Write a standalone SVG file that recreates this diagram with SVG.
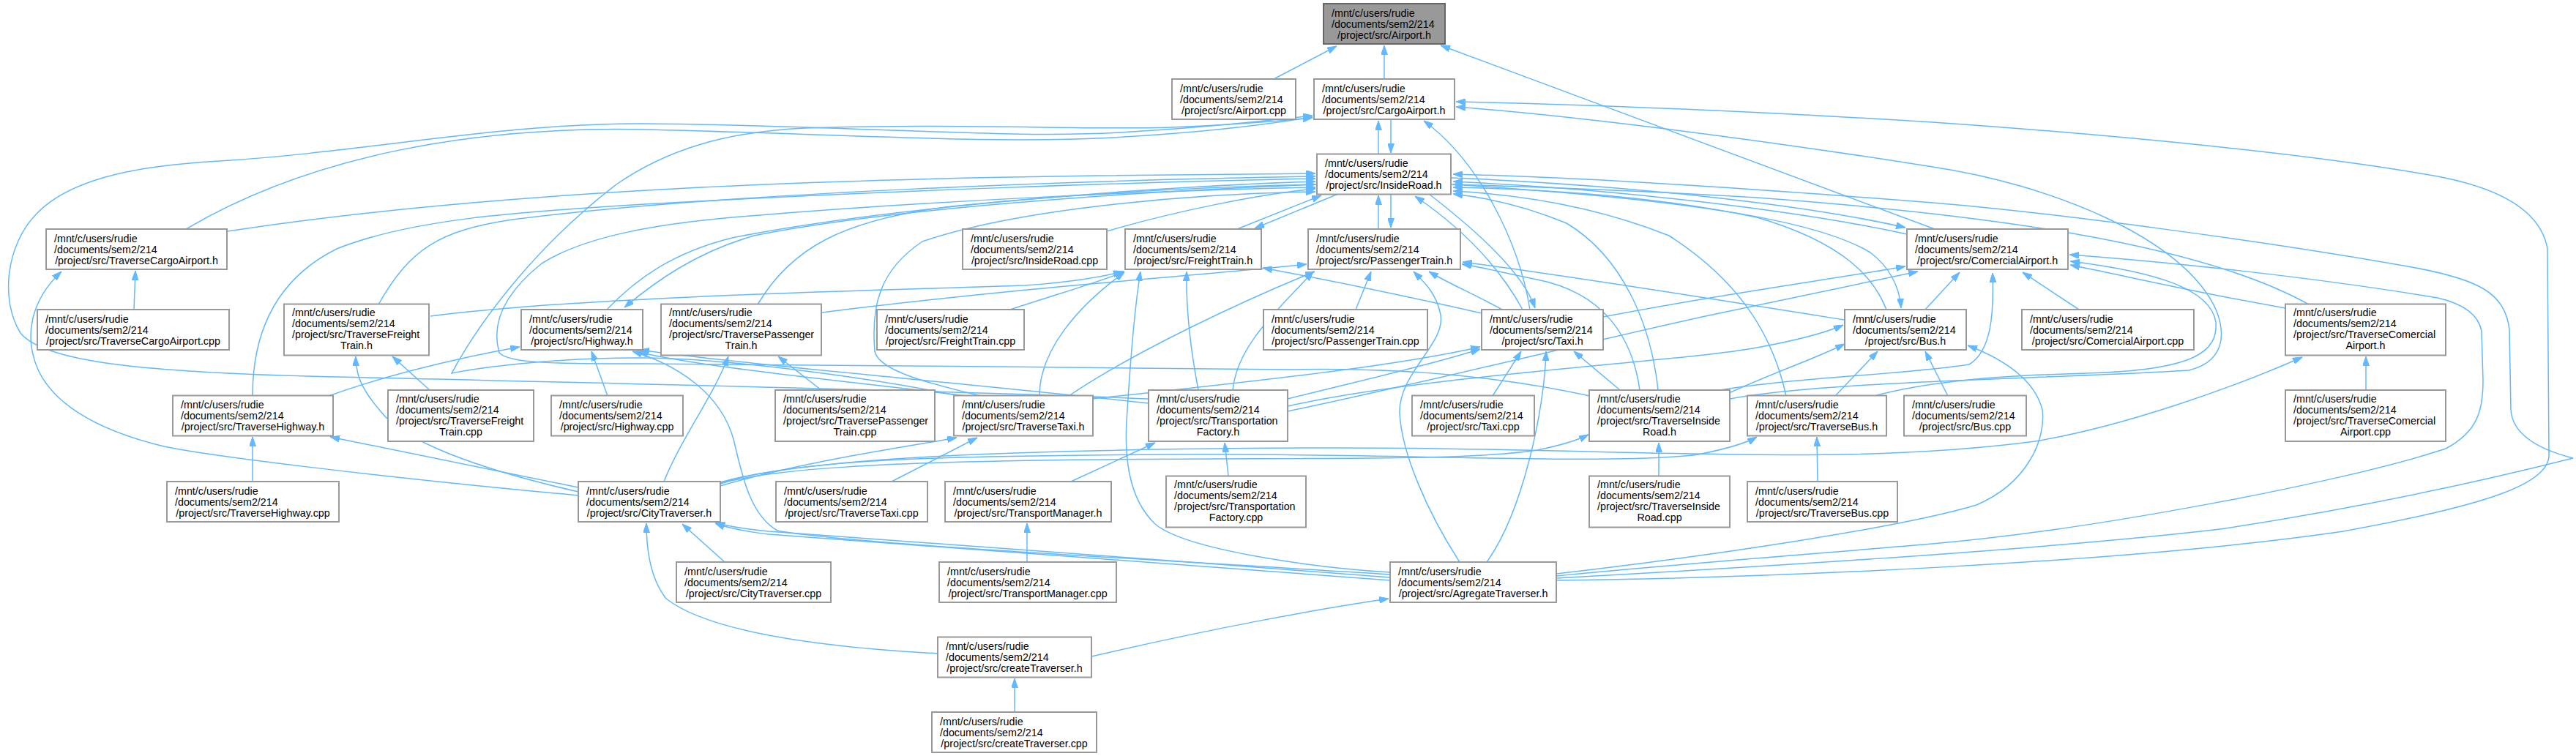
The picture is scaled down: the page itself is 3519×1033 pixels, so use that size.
<svg xmlns="http://www.w3.org/2000/svg" width="3519" height="1033" viewBox="0 0 3519 1033">
<style>
.node rect{fill:#ffffff;stroke:#999999;stroke-width:2}
#n_Airport_h rect{fill:#999999;stroke:#666666}
.node text{font-family:"Liberation Sans",Arial,Helvetica,sans-serif;font-size:14.3px;fill:#000000}
.node text.c{text-anchor:middle}
#edges path{fill:none;stroke:#63b8ff;stroke-width:1.5;marker-end:url(#ah)}
</style>
<defs>
<marker id="ah" markerUnits="userSpaceOnUse" markerWidth="13" markerHeight="9" refX="13" refY="4.5" orient="auto"><path d="M0,0 L13,4.5 L0,9 z" fill="#63b8ff" stroke="#63b8ff" stroke-width="1"/></marker>
</defs>
<rect x="0" y="0" width="3519" height="1033" fill="#ffffff"/>
<g id="edges">
<path d="M1740,108 L1826,63"/>
<path d="M1891,108 L1891,62"/>
<path d="M2643,313 L1968,62"/>
<path d="M1883,210 L1883,165"/>
<path d="M1900,163 L1900,209"/>
<path d="M254,313 C420,215 640,172 880,177 C1150,183 1350,197 1520,188 C1650,181 1745,168 1793,160"/>
<path d="M1569,545 C1300,533 700,521 420,514 C200,508 60,495 28,455 C0,410 8,335 50,292 C100,240 200,226 300,220 C500,208 680,168 880,169 C1150,171 1380,190 1530,181 C1660,174 1745,163 1793,158"/>
<path d="M1310,541 C1200,518 1000,490 880,489 C760,488 650,503 617,510 C660,430 740,330 842,252 C910,205 990,180 1100,175 C1300,168 1500,178 1600,174 C1700,170 1760,164 1793,161"/>
<path d="M311,316 C700,256 1200,244 1500,240 C1650,238 1750,237 1797,237"/>
<path d="M517,416 C560,340 600,315 700,300 C1000,262 1500,246 1797,241"/>
<path d="M345,541 C345,450 380,380 460,340 C560,300 700,290 880,279 C1200,261 1550,249 1797,244"/>
<path d="M829,423 C870,380 920,345 1000,325 C1200,285 1550,256 1797,248"/>
<path d="M1799,252 C1500,264 1200,288 1030,322 C950,345 895,385 853,420"/>
<path d="M1035,416 C1080,340 1150,300 1300,282 C1500,261 1700,254 1797,252"/>
<path d="M1512,316 C1600,290 1720,265 1797,258"/>
<path d="M1340,541 C1260,522 1200,505 1195,480 C1190,420 1200,370 1260,330 C1400,282 1650,264 1797,262"/>
<path d="M2172,541 C2040,512 1900,502 1760,505 C1500,502 1000,498 880,497 C760,497 695,497 682,482 C670,440 690,400 740,360 C800,322 900,306 1000,297 C1300,272 1600,260 1797,256"/>
<path d="M1983,243 C2200,252 2450,276 2603,311"/>
<path d="M2605,320 C2450,286 2200,258 1985,248"/>
<path d="M1983,252 C2300,272 2480,300 2555,345 C2585,368 2595,395 2597,421"/>
<path d="M2577,423 C2560,380 2520,332 2400,297 C2250,266 2100,258 1985,256"/>
<path d="M2440,541 C2420,450 2370,380 2280,322 C2180,282 2080,266 1985,261"/>
<path d="M2265,533 C2255,440 2215,350 2140,305 C2080,280 2030,270 1985,265"/>
<path d="M2126,790 C2400,775 2800,750 3033,723 C3250,690 3420,650 3515,626 C3460,612 3432,590 3430,560 L3428,450 C3422,400 3385,382 3300,366 C3100,330 2800,290 2640,277 C2400,258 2150,242 1985,238"/>
<path d="M2126,793 C2400,790 2900,770 3201,726 C3400,690 3485,660 3482,620 L3480,340 C3470,282 3400,252 3313,238 C3150,210 2900,185 2640,167 C2400,152 2150,142 1989,139"/>
<path d="M2126,787 C2300,770 2500,755 2640,743 C2850,725 3200,660 3341,613 C3385,590 3392,560 3392,520 L3390,452 C3385,427 3360,414 3330,407 C3150,377 2950,357 2827,348"/>
<path d="M2126,784 C2350,758 2600,720 2700,690 C2770,660 2795,600 2790,560 C2780,520 2740,492 2688,472"/>
<path d="M2031,768 C2080,700 2110,560 2112,480"/>
<path d="M1994,768 C1950,700 1915,620 1912,565 C1910,510 1975,470 1968,430 C1962,400 1945,385 1931,371"/>
<path d="M1899,789 C1600,765 1200,738 1050,726 C1010,722 990,718 977,714"/>
<path d="M1899,793 C1600,770 1200,742 1050,730 C1010,725 990,720 977,715"/>
<path d="M1899,785 C1500,760 1150,742 1062,725 C1022,702 1012,640 1002,600 C985,540 930,500 864,480"/>
<path d="M1899,782 C1800,776 1620,752 1578,716 C1540,680 1535,620 1540,560 C1545,480 1550,420 1558,371"/>
<path d="M1491,897 C1650,860 1800,832 1897,818"/>
<path d="M1281,893 C1100,883 964,860 910,818 C888,790 883,750 883,715"/>
<path d="M1386,973 L1386,927"/>
<path d="M990,768 L932,716"/>
<path d="M1403,768 L1403,715"/>
<path d="M1463,658 L1578,605"/>
<path d="M1678,650 L1673,605"/>
<path d="M1218,658 L1335,598"/>
<path d="M984,664 C1100,630 1230,612 1307,598"/>
<path d="M984,661 C1050,641 1200,631 1500,628 C1800,625 2000,630 2100,615 C2140,607 2158,600 2170,594"/>
<path d="M984,659 C1100,626 1300,623 1600,621 C1900,619 2200,636 2320,621 C2365,612 2388,604 2400,597"/>
<path d="M984,660 C1100,624 1400,614 1800,612 C2200,610 2500,640 2780,603 C2900,583 3050,530 3145,488"/>
<path d="M907,658 C930,600 975,540 995,487"/>
<path d="M790,666 L451,597"/>
<path d="M790,677 C500,650 280,622 224,610 C120,585 70,545 52,505 C32,460 42,410 84,371"/>
<path d="M790,672 C650,640 550,602 520,562 C492,530 486,510 486,487"/>
<path d="M345,658 L345,597"/>
<path d="M183,423 L185,370"/>
<path d="M587,533 L536,487"/>
<path d="M830,541 L808,480"/>
<path d="M449,541 C520,515 620,490 710,474"/>
<path d="M1122,533 L1063,487"/>
<path d="M1320,541 C1150,520 960,502 872,481"/>
<path d="M1570,551 C1300,522 1000,496 874,478"/>
<path d="M1493,545 C1700,522 1900,502 2022,474"/>
<path d="M1759,545 C1850,522 1950,500 2022,477"/>
<path d="M1759,555 C1950,512 2300,494 2400,475 C2460,464 2500,452 2518,444"/>
<path d="M1637,533 C1625,470 1620,420 1621,371"/>
<path d="M1684,533 C1690,470 1750,420 1794,371"/>
<path d="M1759,562 C1950,522 2150,472 2325,433 C2450,406 2550,385 2620,371"/>
<path d="M2190,433 C2350,402 2500,382 2603,364"/>
<path d="M2630,423 L2677,372"/>
<path d="M2840,423 L2763,372"/>
<path d="M3122,421 C3000,400 2900,376 2828,362"/>
<path d="M3232,533 L3232,487"/>
<path d="M3154,416 C3000,330 2700,292 2400,270 C2200,258 2050,254 1985,252"/>
<path d="M2080,423 C2040,350 1980,300 1933,268"/>
<path d="M1952,265 C2010,310 2080,370 2097,421"/>
<path d="M2090,423 C2075,330 2020,220 1945,165"/>
<path d="M1690,313 L1805,267"/>
<path d="M1828,265 L1714,312"/>
<path d="M1883,313 L1883,267"/>
<path d="M1900,265 L1900,311"/>
<path d="M1852,423 L1873,371"/>
<path d="M2052,423 C2010,400 1980,388 1952,371"/>
<path d="M2024,428 C1900,400 1800,380 1725,366"/>
<path d="M1380,423 C1450,400 1500,386 1536,371"/>
<path d="M588,432 C800,405 1200,397 1400,390 C1470,385 1510,377 1534,371"/>
<path d="M1123,427 C1400,392 1650,376 1785,361"/>
<path d="M2519,437 C2350,410 2150,378 1998,358"/>
<path d="M2507,541 L2565,480"/>
<path d="M2661,541 L2630,480"/>
<path d="M2039,541 L2078,480"/>
<path d="M2266,650 L2266,605"/>
<path d="M2483,658 L2482,597"/>
<path d="M2213,533 L2150,480"/>
<path d="M2360,538 C2420,510 2480,490 2520,470"/>
<path d="M2350,533 C2450,516 2600,512 2690,498 C2720,480 2724,430 2722,373"/>
<path d="M2560,541 C2620,525 2700,514 2850,510 C3000,506 3030,480 3027,440 C3020,396 2950,372 2828,357"/>
<path d="M2363,545 C2500,520 2800,518 2990,506 C3035,495 3042,462 3028,425 C2985,325 2800,252 2640,228 C2400,190 2150,158 1989,146"/>
<path d="M1420,541 C1420,480 1470,420 1536,372"/>
<path d="M1460,541 C1550,480 1700,410 1796,371"/>
<path d="M2240,533 C2230,460 2190,400 2100,382 C2050,372 2020,364 1997,361"/>
</g>
<g id="n_Airport_h" class="node"><rect x="1808" y="5" width="166" height="55"/><text x="1819" y="22.5">/mnt/c/users/rudie</text><text x="1819" y="37.5">/documents/sem2/214</text><text class="c" x="1891" y="52.5">/project/src/Airport.h</text></g>
<g id="n_Airport_cpp" class="node"><rect x="1601" y="108" width="169" height="55"/><text x="1612" y="125.5">/mnt/c/users/rudie</text><text x="1612" y="140.5">/documents/sem2/214</text><text class="c" x="1685.5" y="155.5">/project/src/Airport.cpp</text></g>
<g id="n_CargoAirport_h" class="node"><rect x="1795" y="108" width="192" height="55"/><text x="1806" y="125.5">/mnt/c/users/rudie</text><text x="1806" y="140.5">/documents/sem2/214</text><text class="c" x="1891" y="155.5">/project/src/CargoAirport.h</text></g>
<g id="n_InsideRoad_h" class="node"><rect x="1799" y="210.5" width="183" height="55"/><text x="1810" y="228">/mnt/c/users/rudie</text><text x="1810" y="243">/documents/sem2/214</text><text class="c" x="1890.5" y="258">/project/src/InsideRoad.h</text></g>
<g id="n_TraverseCargoAirport_h" class="node"><rect x="63" y="313" width="247" height="55"/><text x="74" y="330.5">/mnt/c/users/rudie</text><text x="74" y="345.5">/documents/sem2/214</text><text class="c" x="186.5" y="360.5">/project/src/TraverseCargoAirport.h</text></g>
<g id="n_InsideRoad_cpp" class="node"><rect x="1315" y="313" width="197" height="55"/><text x="1326" y="330.5">/mnt/c/users/rudie</text><text x="1326" y="345.5">/documents/sem2/214</text><text class="c" x="1413.5" y="360.5">/project/src/InsideRoad.cpp</text></g>
<g id="n_FreightTrain_h" class="node"><rect x="1537" y="313" width="186" height="55"/><text x="1548" y="330.5">/mnt/c/users/rudie</text><text x="1548" y="345.5">/documents/sem2/214</text><text class="c" x="1630" y="360.5">/project/src/FreightTrain.h</text></g>
<g id="n_PassengerTrain_h" class="node"><rect x="1787" y="313" width="208" height="55"/><text x="1798" y="330.5">/mnt/c/users/rudie</text><text x="1798" y="345.5">/documents/sem2/214</text><text class="c" x="1891" y="360.5">/project/src/PassengerTrain.h</text></g>
<g id="n_ComercialAirport_h" class="node"><rect x="2605" y="313" width="220" height="55"/><text x="2616" y="330.5">/mnt/c/users/rudie</text><text x="2616" y="345.5">/documents/sem2/214</text><text class="c" x="2715" y="360.5">/project/src/ComercialAirport.h</text></g>
<g id="n_TraverseCargoAirport_cpp" class="node"><rect x="51" y="423" width="262" height="55"/><text x="62" y="440.5">/mnt/c/users/rudie</text><text x="62" y="455.5">/documents/sem2/214</text><text class="c" x="182" y="470.5">/project/src/TraverseCargoAirport.cpp</text></g>
<g id="n_TraverseFreightTrain_h" class="node"><rect x="388" y="415.5" width="198" height="70"/><text x="399" y="432">/mnt/c/users/rudie</text><text x="399" y="447">/documents/sem2/214</text><text x="399" y="462">/project/src/TraverseFreight</text><text class="c" x="487" y="477">Train.h</text></g>
<g id="n_Highway_h" class="node"><rect x="712" y="423" width="166" height="55"/><text x="723" y="440.5">/mnt/c/users/rudie</text><text x="723" y="455.5">/documents/sem2/214</text><text class="c" x="795" y="470.5">/project/src/Highway.h</text></g>
<g id="n_TraversePassengerTrain_h" class="node"><rect x="903" y="415.5" width="219" height="70"/><text x="914" y="432">/mnt/c/users/rudie</text><text x="914" y="447">/documents/sem2/214</text><text x="914" y="462">/project/src/TraversePassenger</text><text class="c" x="1012.5" y="477">Train.h</text></g>
<g id="n_FreightTrain_cpp" class="node"><rect x="1198" y="423" width="201" height="55"/><text x="1209" y="440.5">/mnt/c/users/rudie</text><text x="1209" y="455.5">/documents/sem2/214</text><text class="c" x="1298.5" y="470.5">/project/src/FreightTrain.cpp</text></g>
<g id="n_PassengerTrain_cpp" class="node"><rect x="1726" y="423" width="224" height="55"/><text x="1737" y="440.5">/mnt/c/users/rudie</text><text x="1737" y="455.5">/documents/sem2/214</text><text class="c" x="1838" y="470.5">/project/src/PassengerTrain.cpp</text></g>
<g id="n_Taxi_h" class="node"><rect x="2024" y="423" width="166" height="55"/><text x="2035" y="440.5">/mnt/c/users/rudie</text><text x="2035" y="455.5">/documents/sem2/214</text><text class="c" x="2107" y="470.5">/project/src/Taxi.h</text></g>
<g id="n_Bus_h" class="node"><rect x="2520" y="423" width="166" height="55"/><text x="2531" y="440.5">/mnt/c/users/rudie</text><text x="2531" y="455.5">/documents/sem2/214</text><text class="c" x="2603" y="470.5">/project/src/Bus.h</text></g>
<g id="n_ComercialAirport_cpp" class="node"><rect x="2762" y="423" width="235" height="55"/><text x="2773" y="440.5">/mnt/c/users/rudie</text><text x="2773" y="455.5">/documents/sem2/214</text><text class="c" x="2879.5" y="470.5">/project/src/ComercialAirport.cpp</text></g>
<g id="n_TraverseComercialAirport_h" class="node"><rect x="3122" y="415.5" width="219" height="70"/><text x="3133" y="432">/mnt/c/users/rudie</text><text x="3133" y="447">/documents/sem2/214</text><text x="3133" y="462">/project/src/TraverseComercial</text><text class="c" x="3231.5" y="477">Airport.h</text></g>
<g id="n_TraverseHighway_h" class="node"><rect x="236" y="540.5" width="219" height="55"/><text x="247" y="558">/mnt/c/users/rudie</text><text x="247" y="573">/documents/sem2/214</text><text class="c" x="345.5" y="588">/project/src/TraverseHighway.h</text></g>
<g id="n_TraverseFreightTrain_cpp" class="node"><rect x="530" y="533" width="199" height="70"/><text x="541" y="549.5">/mnt/c/users/rudie</text><text x="541" y="564.5">/documents/sem2/214</text><text x="541" y="579.5">/project/src/TraverseFreight</text><text class="c" x="629.5" y="594.5">Train.cpp</text></g>
<g id="n_Highway_cpp" class="node"><rect x="753" y="540.5" width="180" height="55"/><text x="764" y="558">/mnt/c/users/rudie</text><text x="764" y="573">/documents/sem2/214</text><text class="c" x="843" y="588">/project/src/Highway.cpp</text></g>
<g id="n_TraversePassengerTrain_cpp" class="node"><rect x="1059" y="533" width="218" height="70"/><text x="1070" y="549.5">/mnt/c/users/rudie</text><text x="1070" y="564.5">/documents/sem2/214</text><text x="1070" y="579.5">/project/src/TraversePassenger</text><text class="c" x="1168" y="594.5">Train.cpp</text></g>
<g id="n_TraverseTaxi_h" class="node"><rect x="1303" y="540.5" width="190" height="55"/><text x="1314" y="558">/mnt/c/users/rudie</text><text x="1314" y="573">/documents/sem2/214</text><text class="c" x="1398" y="588">/project/src/TraverseTaxi.h</text></g>
<g id="n_TransportationFactory_h" class="node"><rect x="1569" y="533" width="190" height="70"/><text x="1580" y="549.5">/mnt/c/users/rudie</text><text x="1580" y="564.5">/documents/sem2/214</text><text x="1580" y="579.5">/project/src/Transportation</text><text class="c" x="1664" y="594.5">Factory.h</text></g>
<g id="n_Taxi_cpp" class="node"><rect x="1929" y="540.5" width="167" height="55"/><text x="1940" y="558">/mnt/c/users/rudie</text><text x="1940" y="573">/documents/sem2/214</text><text class="c" x="2012.5" y="588">/project/src/Taxi.cpp</text></g>
<g id="n_TraverseInsideRoad_h" class="node"><rect x="2171" y="533" width="192" height="70"/><text x="2182" y="549.5">/mnt/c/users/rudie</text><text x="2182" y="564.5">/documents/sem2/214</text><text x="2182" y="579.5">/project/src/TraverseInside</text><text class="c" x="2267" y="594.5">Road.h</text></g>
<g id="n_TraverseBus_h" class="node"><rect x="2387" y="540.5" width="190" height="55"/><text x="2398" y="558">/mnt/c/users/rudie</text><text x="2398" y="573">/documents/sem2/214</text><text class="c" x="2482" y="588">/project/src/TraverseBus.h</text></g>
<g id="n_Bus_cpp" class="node"><rect x="2601" y="540.5" width="167" height="55"/><text x="2612" y="558">/mnt/c/users/rudie</text><text x="2612" y="573">/documents/sem2/214</text><text class="c" x="2684.5" y="588">/project/src/Bus.cpp</text></g>
<g id="n_TraverseComercialAirport_cpp" class="node"><rect x="3122" y="533" width="219" height="70"/><text x="3133" y="549.5">/mnt/c/users/rudie</text><text x="3133" y="564.5">/documents/sem2/214</text><text x="3133" y="579.5">/project/src/TraverseComercial</text><text class="c" x="3231.5" y="594.5">Airport.cpp</text></g>
<g id="n_TraverseHighway_cpp" class="node"><rect x="228" y="658" width="235" height="55"/><text x="239" y="675.5">/mnt/c/users/rudie</text><text x="239" y="690.5">/documents/sem2/214</text><text class="c" x="345.5" y="705.5">/project/src/TraverseHighway.cpp</text></g>
<g id="n_CityTraverser_h" class="node"><rect x="790" y="658" width="194" height="55"/><text x="801" y="675.5">/mnt/c/users/rudie</text><text x="801" y="690.5">/documents/sem2/214</text><text class="c" x="887" y="705.5">/project/src/CityTraverser.h</text></g>
<g id="n_TraverseTaxi_cpp" class="node"><rect x="1060" y="658" width="207" height="55"/><text x="1071" y="675.5">/mnt/c/users/rudie</text><text x="1071" y="690.5">/documents/sem2/214</text><text class="c" x="1163.5" y="705.5">/project/src/TraverseTaxi.cpp</text></g>
<g id="n_TransportManager_h" class="node"><rect x="1291" y="658" width="227" height="55"/><text x="1302" y="675.5">/mnt/c/users/rudie</text><text x="1302" y="690.5">/documents/sem2/214</text><text class="c" x="1404.5" y="705.5">/project/src/TransportManager.h</text></g>
<g id="n_TransportationFactory_cpp" class="node"><rect x="1593" y="650.5" width="191" height="70"/><text x="1604" y="667">/mnt/c/users/rudie</text><text x="1604" y="682">/documents/sem2/214</text><text x="1604" y="697">/project/src/Transportation</text><text class="c" x="1688.5" y="712">Factory.cpp</text></g>
<g id="n_TraverseInsideRoad_cpp" class="node"><rect x="2171" y="650.5" width="192" height="70"/><text x="2182" y="667">/mnt/c/users/rudie</text><text x="2182" y="682">/documents/sem2/214</text><text x="2182" y="697">/project/src/TraverseInside</text><text class="c" x="2267" y="712">Road.cpp</text></g>
<g id="n_TraverseBus_cpp" class="node"><rect x="2387" y="658" width="205" height="55"/><text x="2398" y="675.5">/mnt/c/users/rudie</text><text x="2398" y="690.5">/documents/sem2/214</text><text class="c" x="2489.5" y="705.5">/project/src/TraverseBus.cpp</text></g>
<g id="n_CityTraverser_cpp" class="node"><rect x="924" y="768" width="211" height="55"/><text x="935" y="785.5">/mnt/c/users/rudie</text><text x="935" y="800.5">/documents/sem2/214</text><text class="c" x="1029.5" y="815.5">/project/src/CityTraverser.cpp</text></g>
<g id="n_TransportManager_cpp" class="node"><rect x="1283" y="768" width="242" height="55"/><text x="1294" y="785.5">/mnt/c/users/rudie</text><text x="1294" y="800.5">/documents/sem2/214</text><text class="c" x="1404" y="815.5">/project/src/TransportManager.cpp</text></g>
<g id="n_AgregateTraverser_h" class="node"><rect x="1899" y="768" width="227" height="55"/><text x="1910" y="785.5">/mnt/c/users/rudie</text><text x="1910" y="800.5">/documents/sem2/214</text><text class="c" x="2012.5" y="815.5">/project/src/AgregateTraverser.h</text></g>
<g id="n_createTraverser_h" class="node"><rect x="1281" y="870.5" width="210" height="55"/><text x="1292" y="888">/mnt/c/users/rudie</text><text x="1292" y="903">/documents/sem2/214</text><text class="c" x="1386" y="918">/project/src/createTraverser.h</text></g>
<g id="n_createTraverser_cpp" class="node"><rect x="1273" y="973" width="225" height="55"/><text x="1284" y="990.5">/mnt/c/users/rudie</text><text x="1284" y="1005.5">/documents/sem2/214</text><text class="c" x="1385.5" y="1020.5">/project/src/createTraverser.cpp</text></g>
</svg>
